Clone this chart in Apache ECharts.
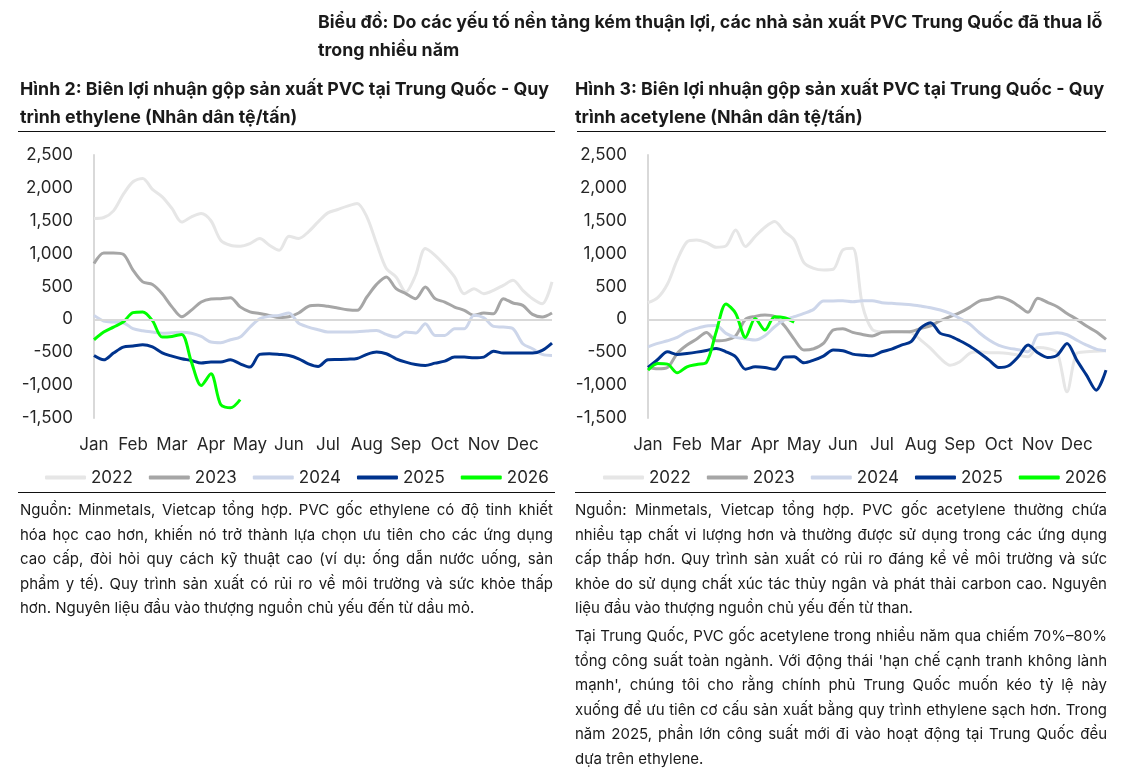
<!DOCTYPE html>
<html>
<head>
<meta charset="utf-8">
<script src="https://cdn.jsdelivr.net/npm/echarts@6/dist/echarts.min.js"></script>
<style>
  html, body { margin: 0; padding: 0; background: #fff; }
  body { width: 1129px; height: 777px; position: relative; overflow: hidden; font-family: Inter, "Noto Sans", sans-serif; color: #1a1a1a; }
  #chart { position: absolute; left: 0; top: 0; width: 1129px; height: 777px; }
  .txt { position: absolute; white-space: nowrap; }
  .title { font-weight: 700; font-size: 17.8px; line-height: 28px; }
  .rule { position: absolute; height: 0; border-top: 1px solid #111; }
  .para { position: absolute; font-size: 15px; line-height: 24.5px; }
  .para div { white-space: nowrap; text-align: justify; text-align-last: justify; }
  .para div.last { text-align-last: left; }
</style>
</head>
<body>
<div id="chart"></div>

<div class="txt title" style="left:318px; top:8px;">Biểu đồ: Do các yếu tố nền tảng kém thuận lợi, các nhà sản xuất PVC Trung Quốc đã thua lỗ<br>trong nhiều năm</div>
<div class="txt title" style="left:20px; top:75px;">Hình 2: Biên lợi nhuận gộp sản xuất PVC tại Trung Quốc - Quy<br>trình ethylene (Nhân dân tệ/tấn)</div>
<div class="txt title" style="left:575px; top:75px;">Hình 3: Biên lợi nhuận gộp sản xuất PVC tại Trung Quốc - Quy<br>trình acetylene (Nhân dân tệ/tấn)</div>
<div class="rule" style="left:18px; top:131px; width:537px;"></div>
<div class="rule" style="left:577px; top:131px; width:529px;"></div>
<div class="rule" style="left:18px; top:492px; width:537px;"></div>
<div class="rule" style="left:575px; top:492px; width:531px;"></div>

<div class="para" style="left:20px; top:498px; width:533px;">
  <div>Nguồn: Minmetals, Vietcap tổng hợp. PVC gốc ethylene có độ tinh khiết</div>
  <div>hóa học cao hơn, khiến nó trở thành lựa chọn ưu tiên cho các ứng dụng</div>
  <div>cao cấp, đòi hỏi quy cách kỹ thuật cao (ví dụ: ống dẫn nước uống, sản</div>
  <div>phẩm y tế). Quy trình sản xuất có rủi ro về môi trường và sức khỏe thấp</div>
  <div class="last">hơn. Nguyên liệu đầu vào thượng nguồn chủ yếu đến từ dầu mỏ.</div>
</div>
<div class="para" style="left:575px; top:498px; width:532px;">
  <div>Nguồn: Minmetals, Vietcap tổng hợp. PVC gốc acetylene thường chứa</div>
  <div>nhiều tạp chất vi lượng hơn và thường được sử dụng trong các ứng dụng</div>
  <div>cấp thấp hơn. Quy trình sản xuất có rủi ro đáng kể về môi trường và sức</div>
  <div>khỏe do sử dụng chất xúc tác thủy ngân và phát thải carbon cao. Nguyên</div>
  <div class="last">liệu đầu vào thượng nguồn chủ yếu đến từ than.</div>
</div>
<div class="para" style="left:575px; top:624px; width:532px;">
  <div>Tại Trung Quốc, PVC gốc acetylene trong nhiều năm qua chiếm 70%–80%</div>
  <div>tổng công suất toàn ngành. Với động thái 'hạn chế cạnh tranh không lành</div>
  <div>mạnh', chúng tôi cho rằng chính phủ Trung Quốc muốn kéo tỷ lệ này</div>
  <div>xuống để ưu tiên cơ cấu sản xuất bằng quy trình ethylene sạch hơn. Trong</div>
  <div>năm 2025, phần lớn công suất mới đi vào hoạt động tại Trung Quốc đều</div>
  <div class="last">dựa trên ethylene.</div>
</div>

<script>
// categories: 4 points per month, label shown on the first of each month
const months = ["Jan", "Feb", "Mar", "Apr", "May", "Jun", "Jul", "Aug", "Sep", "Oct", "Nov", "Dec"];
const weeks = months.flatMap((m) => [m + " 1", m + " 2", m + " 3", m + " 4"]);
const years = ["2022", "2023", "2024", "2025", "2026"];
const colors = ["#e6e6e6", "#a6a6a6", "#cdd6ea", "#00338d", "#00ff00"];

// Hình 2 - ethylene (CNY/t)
const eth2022 = [1534, 1549, 1650, 1900, 2093, 2144, 1976, 1864, 1687, 1480, 1560, 1610, 1500, 1204, 1128, 1113, 1153, 1229, 1128, 1052, 1265, 1229, 1331, 1483, 1620, 1671, 1722, 1763, 1560, 1153, 772, 645, 417, 671, 1077, 975, 823, 645, 391, 467, 391, 442, 518, 594, 442, 315, 239, 569];
const eth2023 = [848, 1011, 1011, 991, 750, 570, 530, 390, 190, 40, 140, 265, 310, 315, 330, 190, 115, 90, 60, 30, 40, 97, 198, 213, 198, 173, 147, 137, 340, 533, 645, 467, 391, 315, 493, 315, 264, 188, 137, 61, 97, 86, 315, 249, 213, 76, 36, 97];
const eth2024 = [61, -25, -41, -50, -140, -173, -193, -210, -203, -195, -210, -260, -345, -355, -310, -269, -120, 10, 46, 61, 97, -60, -117, -157, -193, -193, -193, -188, -178, -168, -229, -269, -193, -208, -66, -244, -244, -142, -142, 61, 25, -107, -117, -142, -371, -447, -533, -549];
const eth2025 = [-549, -615, -513, -422, -406, -386, -420, -510, -559, -599, -625, -665, -650, -650, -615, -676, -726, -533, -523, -533, -549, -599, -676, -716, -615, -610, -605, -594, -533, -498, -523, -599, -650, -686, -701, -665, -635, -574, -574, -584, -574, -483, -513, -513, -513, -513, -472, -361];
const eth2026 = [-310, -193, -117, -41, 102, 112, -20, -269, -259, -229, -650, -1006, -828, -1295, -1346, -1220];

// Hình 3 - acetylene (CNY/t)
const ace2022 = [254, 330, 538, 904, 1179, 1209, 1168, 1097, 1118, 1361, 1107, 1260, 1402, 1488, 1336, 1209, 864, 777, 752, 762, 1057, 1082, 218, -152, -188, -188, -188, -203, -315, -442, -594, -696, -645, -518, -493, -508, -508, -518, -544, -569, -427, -442, -508, -1102, -518, -493, -483, -478];
const ace2023 = [-732, -752, -732, -518, -391, -300, -200, -325, -315, -249, 0, 46, 66, 41, -97, -300, -467, -447, -366, -163, -142, -198, -229, -254, -198, -188, -188, -183, -137, -97, -20, 41, 102, 183, 279, 305, 340, 295, 208, 107, 320, 259, 193, 91, 0, -102, -188, -305];
const ace2024 = [-417, -366, -325, -274, -188, -137, -100, -95, -213, -274, -295, -315, -249, -112, -10, 41, 91, 152, 279, 279, 284, 269, 284, 284, 254, 244, 234, 224, 203, 178, 142, 91, 15, -71, -203, -315, -396, -437, -462, -493, -239, -218, -203, -234, -315, -391, -452, -478];
const ace2025 = [-732, -610, -493, -533, -518, -498, -472, -442, -493, -569, -757, -721, -732, -760, -574, -569, -660, -620, -559, -467, -478, -528, -544, -554, -493, -452, -391, -340, -130, -50, -213, -254, -325, -406, -508, -620, -732, -705, -569, -391, -508, -579, -544, -366, -620, -848, -1077, -772];
const ace2026 = [-772, -671, -681, -813, -721, -686, -655, -188, 234, 91, -274, 15, -163, 41, 25, -41];

const ethSeries = [eth2022, eth2023, eth2024, eth2025, eth2026];
const aceSeries = [ace2022, ace2023, ace2024, ace2025, ace2026];

const font = "Inter";
const labelColor = "#262626";

const makeSeries = (sets, axisIndex) =>
  sets.map((data, i) => {
    const s = {
      name: years[i],
      type: "line",
      xAxisIndex: axisIndex,
      yAxisIndex: axisIndex,
      data: data,
      smooth: 0.3,
      showSymbol: false,
      symbol: "none",
      lineStyle: { width: 3, color: colors[i] },
      itemStyle: { color: colors[i] },
    };
    if (i === 0) {
      // zero line
      s.markLine = {
        silent: true,
        symbol: ["none", "none"],
        label: { show: false },
        lineStyle: { color: "#d9d9d9", width: 2, type: "solid" },
        data: [{ yAxis: 0 }],
      };
    }
    return s;
  });

const makeX = (idx) => ({
  type: "category",
  gridIndex: idx,
  data: weeks,
  boundaryGap: false,
  axisLine: { show: false },
  axisTick: { show: false },
  splitLine: { show: false },
  axisLabel: {
    interval: 3,
    formatter: (v) => v.split(" ")[0],
    fontSize: 17,
    fontFamily: font,
    color: labelColor,
    margin: 18,
  },
});

const makeY = (idx) => ({
  type: "value",
  gridIndex: idx,
  min: -1500,
  max: 2500,
  interval: 500,
  axisLine: { show: true, lineStyle: { color: "#d9d9d9", width: 2 } },
  axisTick: { show: false },
  splitLine: { show: false },
  axisLabel: {
    fontSize: 17,
    fontFamily: font,
    color: labelColor,
    margin: 21,
    formatter: (v) => v.toLocaleString("en-US"),
  },
});

const makeLegend = (left) => ({
  data: years,
  left: left,
  top: 464,
  icon: "roundRect",
  itemWidth: 41,
  itemHeight: 4,
  itemGap: 16,
  textStyle: { fontSize: 17, fontFamily: font, color: labelColor },
});

const option = {
  animation: false,
  grid: [
    { left: 94, top: 155, width: 458, height: 263 },
    { left: 648, top: 155, width: 458, height: 263 },
  ],
  xAxis: [makeX(0), makeX(1)],
  yAxis: [makeY(0), makeY(1)],
  legend: [makeLegend(40), makeLegend(598)],
  series: [...makeSeries(ethSeries, 0), ...makeSeries(aceSeries, 1)],
};

const myChart = echarts.init(document.getElementById("chart"));
myChart.setOption(option);
window.addEventListener("resize", myChart.resize);
</script>
</body>
</html>
